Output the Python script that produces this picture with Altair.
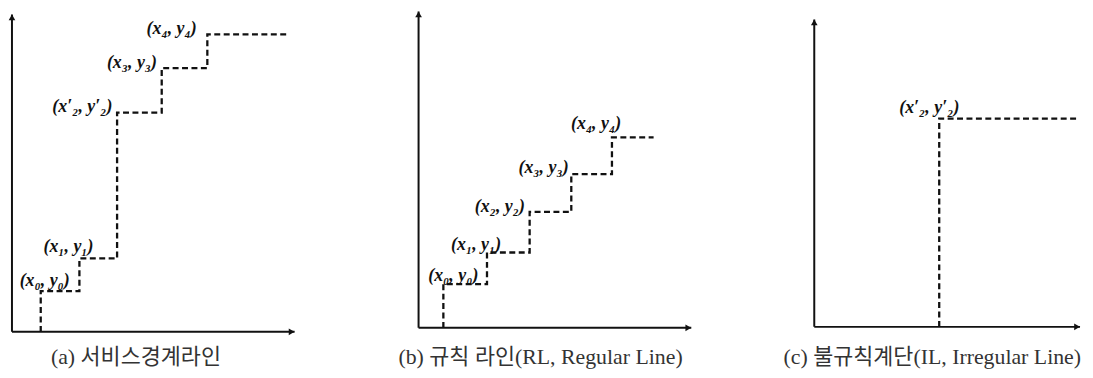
import altair as alt
import pandas as pd

# ---------------- data (units: relative to each panel's origin) ----------------
# panel (a) service boundary line
a_step_x = [29, 68, 106, 151, 197]
a_step_y = [41, 74, 221, 266, 300]
a_end_x = 279
a_labels = ["(x₀, y₀)", "(x₁, y₁)", "(x′₂, y′₂)", "(x₃, y₃)", "(x₄, y₄)"]
a_label_x = [33, 57, 71, 121, 161]
a_label_y = [51, 85, 227, 271, 305]
a_axis = [285, 320]  # x end, y top
a_caption = "(a) 서비스경계라인"

# panel (b) regular line
b_step_x = [25, 69, 112, 154, 195]
b_step_y = [44, 76, 117, 155, 192]
b_end_x = 237
b_labels = ["(x₀, y₀)", "(x₁, y₁)", "(x₂, y₂)", "(x₃, y₃)", "(x₄, y₄)"]
b_label_x = [35, 58, 82, 126, 179]
b_label_y = [52, 84, 122, 161, 206]
b_axis = [275, 319]
b_caption = "(b) 규칙 라인(RL, Regular Line)"

# panel (c) irregular line
c_step_x = [126]
c_step_y = [210]
c_end_x = 265
c_labels = ["(x′₂, y′₂)"]
c_label_x = [116]
c_label_y = [221]
c_axis = [268, 310]
c_caption = "(c) 불규칙계단(IL, Irregular Line)"

panels = [
    dict(sx=a_step_x, sy=a_step_y, ex=a_end_x, lab=a_labels, lx=a_label_x, ly=a_label_y,
         axis=a_axis, cap=a_caption, cap_xy=(125, -25), xdom=[-3, 389], ydom=[-42, 320], w=392),
    dict(sx=b_step_x, sy=b_step_y, ex=b_end_x, lab=b_labels, lx=b_label_x, ly=b_label_y,
         axis=b_axis, cap=b_caption, cap_xy=(123, -29), xdom=[-18, 362], ydom=[-46, 316], w=380),
    dict(sx=c_step_x, sy=c_step_y, ex=c_end_x, lab=c_labels, lx=c_label_x, ly=c_label_y,
         axis=c_axis, cap=c_caption, cap_xy=(119, -30), xdom=[-37, 273], ydom=[-47, 315], w=310),
]

H = 362


def make_panel(p):
    xs = alt.Scale(domain=p["xdom"], nice=False, zero=False)
    ys = alt.Scale(domain=p["ydom"], nice=False, zero=False)

    # step path built from the corner lists
    pts = [(p["sx"][0], 0)]
    for i, (x, y) in enumerate(zip(p["sx"], p["sy"])):
        nxt = p["sx"][i + 1] if i + 1 < len(p["sx"]) else p["ex"]
        pts.append((x, y))
        pts.append((nxt, y))
    step_df = pd.DataFrame({"x": [q[0] for q in pts], "y": [q[1] for q in pts],
                            "o": list(range(len(pts)))})

    xend, ytop = p["axis"]
    axis_df = pd.DataFrame({"x": [0, 0], "y": [0, 0], "x2": [0, xend], "y2": [ytop, 0]})
    arrow_df = pd.DataFrame({"x": [0, xend - 3], "y": [ytop - 3, 0],
                             "s": ["triangle-up", "triangle-right"]})
    lab_df = pd.DataFrame({"x": p["lx"], "y": p["ly"], "t": p["lab"]})
    cap_df = pd.DataFrame({"x": [p["cap_xy"][0]], "y": [p["cap_xy"][1]], "t": [p["cap"]]})

    X = lambda f="x": alt.X(f"{f}:Q", scale=xs, axis=None)
    Y = lambda f="y": alt.Y(f"{f}:Q", scale=ys, axis=None)

    axes = alt.Chart(axis_df).mark_rule(color="#111", strokeWidth=2).encode(
        x=X(), y=Y(), x2="x2:Q", y2="y2:Q")
    arrows = alt.Chart(arrow_df).mark_point(filled=True, color="#111", size=45, opacity=1).encode(
        x=X(), y=Y(), shape=alt.Shape("s:N", scale=None))
    step = alt.Chart(step_df).mark_line(color="#111", strokeWidth=2.3, strokeDash=[6, 3.5]).encode(
        x=X(), y=Y(), order="o:Q")
    labels = alt.Chart(lab_df).mark_text(font="'Liberation Serif', 'DejaVu Serif'", fontStyle="italic",
                                         fontWeight="bold", fontSize=18, color="#111").encode(
        x=X(), y=Y(), text="t:N")
    cap = alt.Chart(cap_df).mark_text(font="'Liberation Serif', 'Noto Sans CJK KR'", fontSize=22,
                                      color="#333").encode(
        x=X(), y=Y(), text="t:N")
    return alt.layer(axes, step, arrows, labels, cap).properties(width=p["w"], height=H)


chart = alt.hconcat(*[make_panel(p) for p in panels], spacing=0).properties(
    padding=0, background="white").configure_view(stroke=None)

chart.save("out.html", embed_options={"renderer": "svg", "actions": False})
